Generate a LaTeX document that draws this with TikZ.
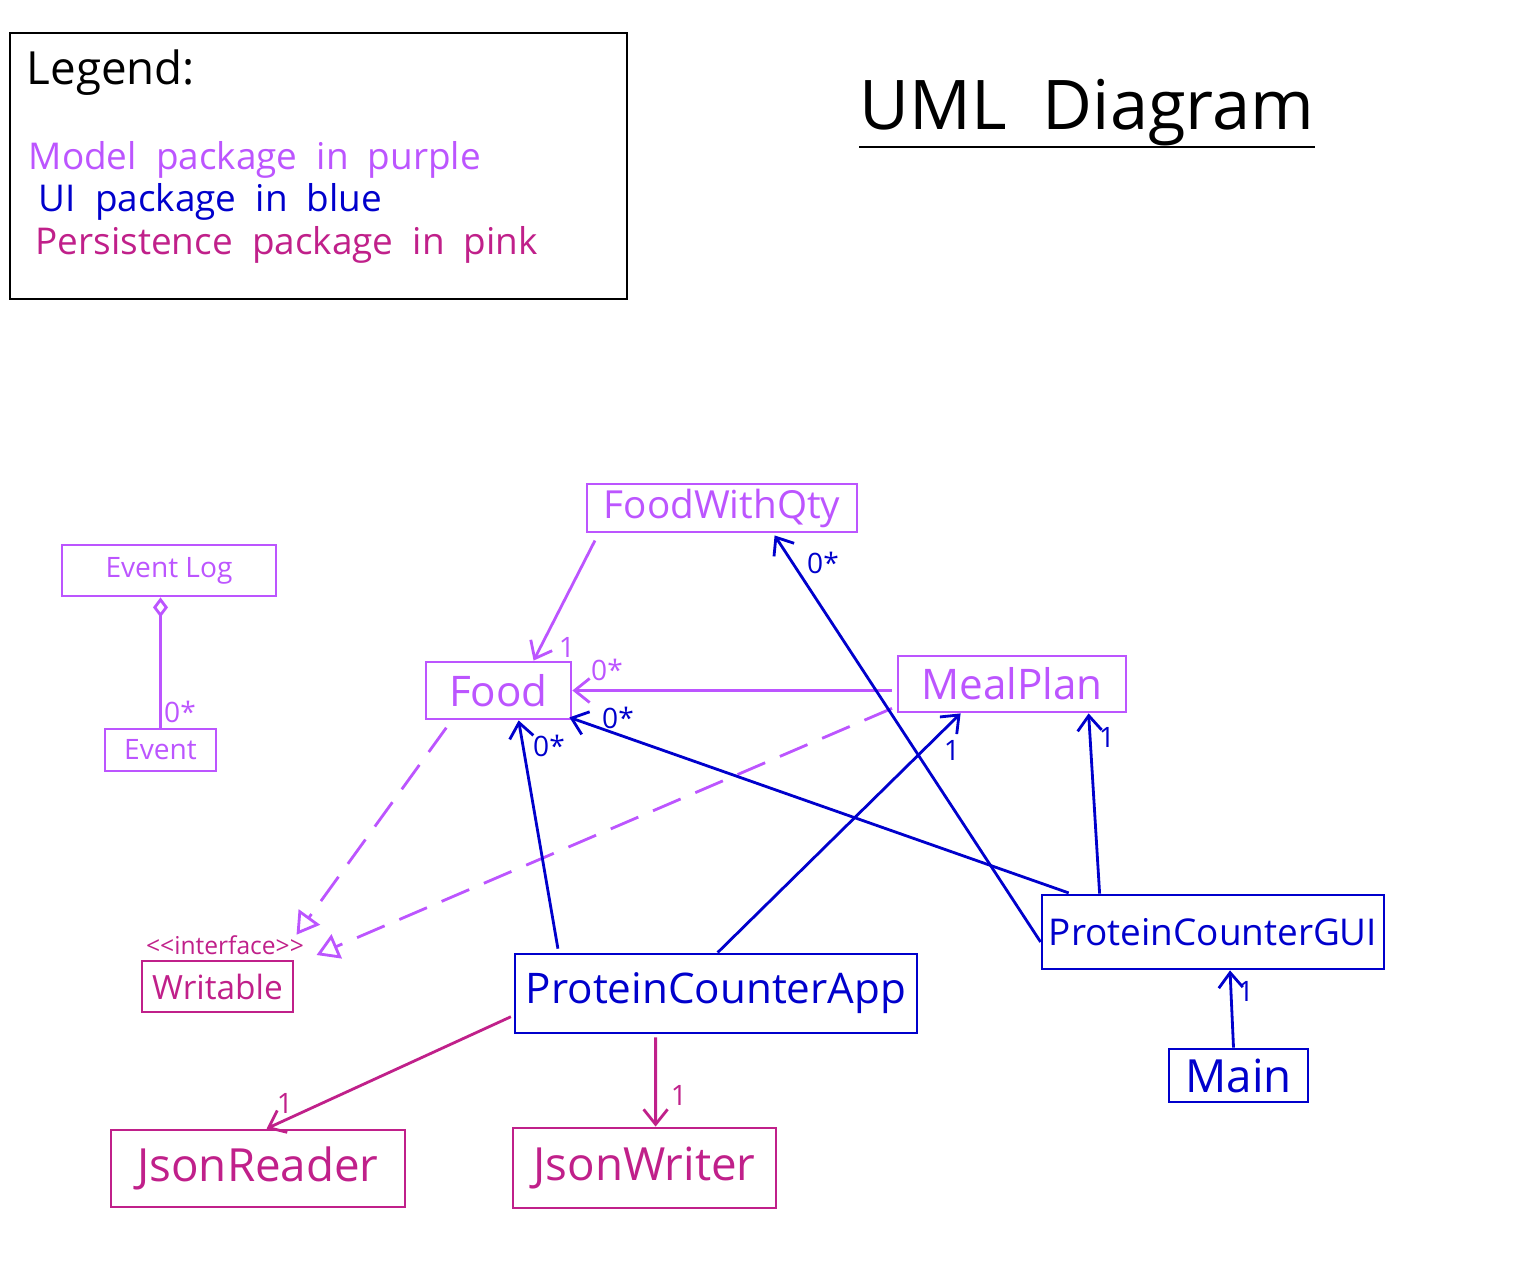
\documentclass[tikz,border=0pt]{standalone}
\usepackage{xcolor}
\usepackage{fontspec}
\setmainfont{Open Sans}
\usepackage{tikz}
\usetikzlibrary{calc}
\usetikzlibrary{arrows.meta}
\usetikzlibrary{positioning}
\definecolor{modelc}{RGB}{188,85,255}
\definecolor{uic}{RGB}{0,0,204}
\definecolor{persc}{RGB}{192,32,138}
\tikzset{>={Straight Barb[length=1.5mm, width=2.4mm]}}
\tikzstyle{cls} = [rectangle, line width = 0.8pt, inner sep = 0]
\tikzstyle{mdl} = [cls, draw = modelc, text = modelc]
\tikzstyle{uicls} = [cls, draw = uic, text = uic]
\tikzstyle{pers} = [cls, draw = persc, text = persc]
\tikzstyle{mult} = [draw = none, inner sep = 1, font = \fontsize{8}{9}\selectfont]
\tikzstyle{assoc} = [->, line width = 0.8pt]
\tikzstyle{realize} = [-{Triangle[open, length=2.2mm, width=2.6mm]}, draw = modelc, line width = 0.8pt, dash pattern = on 3mm off 1.6mm]
\newcommand{\fs}[1]{\fontsize{#1}{#1}\selectfont}

\begin{document}
\begin{tikzpicture}
\useasboundingbox (0, 0) rectangle (15.19, -12.71);
% legend
\node [rectangle, draw = black, line width = 0.8pt, minimum width = 6.17cm, minimum height = 2.66cm] (legend) at (3.185, -1.66) {};
\node [draw = none, inner sep = 0, anchor = base west, font = \fs{13}] (legtitle) at (0.26, -0.85) {Legend:};
\node [draw = none, inner sep = 0, anchor = base west, text = modelc, font = \fs{10.5}] (legmodel) at (0.28, -1.70) {Model\ \ package\ \ in\ \ purple};
\node [draw = none, inner sep = 0, anchor = base west, text = uic, font = \fs{10.5}] (legui) at (0.38, -2.12) {UI\ \ package\ \ in\ \ blue};
\node [draw = none, inner sep = 0, anchor = base west, text = persc, font = \fs{10.5}] (legpers) at (0.35, -2.55) {Persistence\ \ package\ \ in\ \ pink};
% title
\node [draw = none, inner sep = 0, anchor = base, font = \fs{19.5}] (title) at (10.87, -1.30) {UML\ \ Diagram};
\draw [line width = 0.8pt] ($(title.base west) + (0, -0.17)$) -- ($(title.base east) + (0, -0.17)$);

% model classes
\node [mdl, minimum width = 2.70cm, minimum height = 0.48cm, font = \fs{11}] (fwq) at (7.22, -5.08) {FoodWithQty};
\node [mdl, minimum width = 2.14cm, minimum height = 0.51cm, font = \fs{8}] (elog) at (1.69, -5.705) {Event Log};
\node [mdl, minimum width = 1.11cm, minimum height = 0.42cm, font = \fs{8}] (event) at (1.605, -7.50) {Event};
\node [mdl, minimum width = 1.45cm, minimum height = 0.57cm, font = \fs{12}] (food) at (4.985, -6.905) {Food};
\node [mdl, minimum width = 2.28cm, minimum height = 0.56cm, font = \fs{12}] (meal) at (10.12, -6.84) {MealPlan};
% persistence
\node [draw = none, inner sep = 0, text = persc, font = \fs{7}] (iface) at (2.25, -9.45) {{<}{<}interface{>}{>}};
\node [pers, minimum width = 1.51cm, minimum height = 0.51cm, font = \fs{9.5}] (writ) at (2.175, -9.865) {Writable};
\node [pers, minimum width = 2.94cm, minimum height = 0.77cm, font = \fs{13}] (reader) at (2.58, -11.685) {JsonReader};
\node [pers, minimum width = 2.63cm, minimum height = 0.80cm, font = \fs{13}] (writer) at (6.445, -11.68) {JsonWriter};
% ui
\node [uicls, minimum width = 4.02cm, minimum height = 0.79cm, font = \fs{12}] (app) at (7.16, -9.935) {ProteinCounterApp};
\node [uicls, minimum width = 3.42cm, minimum height = 0.74cm, font = \fs{10.5}] (gui) at (12.13, -9.32) {ProteinCounterGUI};
\node [uicls, minimum width = 1.39cm, minimum height = 0.53cm, font = \fs{13}] (main) at (12.385, -10.755) {Main};

% model links
\draw [assoc, draw = modelc, shorten < = 0.08cm] ([xshift = 0.13cm]fwq.south west) -- ([xshift = 1.09cm]food.north west);
\node [mult, text = modelc] (m1) at (5.67, -6.47) {1};
\draw [assoc, draw = modelc, shorten < = 0.05cm] (meal.west |- food.east) -- (food.east);
\node [mult, text = modelc] (m2) at (6.07, -6.70) {0*};
\draw [line width = 0.8pt, draw = modelc, -{Diamond[open, length = 2mm, width = 1.5mm]}] (event.north |- event.north) -- (event.north |- elog.south);
\node [mult, text = modelc] (m3) at (1.80, -7.12) {0*};
\draw [realize, shorten < = 0.05cm] ([yshift = 0.07cm]meal.south west) -- ([xshift = 0.12cm, yshift = -0.10cm]iface.east);
\draw [realize, shorten < = 0.09cm] ([xshift = 0.27cm]food.south west) -- ([xshift = -0.08cm, yshift = 0.0cm]iface.north east);

% ui links
\draw [assoc, draw = uic, shorten < = 0.04cm] ([xshift = 0.45cm]app.north west) -- ([xshift = 0.94cm]food.south west);
\node [mult, text = uic] (m4) at (5.49, -7.46) {0*};
\draw [assoc, draw = uic] ([xshift = 2.04cm]app.north west) -- ([xshift = 0.64cm]meal.south west);
\node [mult, text = uic] (m5) at (9.52, -7.50) {1};
\draw [assoc, draw = uic, shorten < = 0.02cm] ([xshift = 0.30cm]gui.north west) -- ([xshift = -0.03cm, yshift = 0.03cm]food.south east);
\node [mult, text = uic] (m6) at (6.18, -7.18) {0*};
\draw [assoc, draw = uic] ([xshift = 0.59cm]gui.north west) -- ([xshift = 1.92cm]meal.south west);
\node [mult, text = uic] (m7) at (11.07, -7.37) {1};
\draw [assoc, draw = uic] ([yshift = -0.10cm]gui.west) -- ([xshift = 1.89cm, yshift = -0.02cm]fwq.south west);
\node [mult, text = uic] (m8) at (8.23, -5.63) {0*};
\draw [assoc, draw = uic] ([xshift = -0.05cm]main.north) -- ([xshift = 0.17cm]gui.south);
\node [mult, text = uic] (m9) at (12.46, -9.91) {1};

% persistence links
\draw [assoc, draw = persc, shorten < = 0.03cm] ([yshift = -0.22cm]app.west) -- ([xshift = 1.57cm]reader.north west);
\node [mult, text = persc] (m10) at (2.85, -11.03) {1};
\draw [assoc, draw = persc, shorten < = 0.03cm] ([xshift = 1.42cm]app.south west) -- ([xshift = 1.44cm]writer.north west);
\node [mult, text = persc] (m11) at (6.79, -10.95) {1};
\end{tikzpicture}
\end{document}
